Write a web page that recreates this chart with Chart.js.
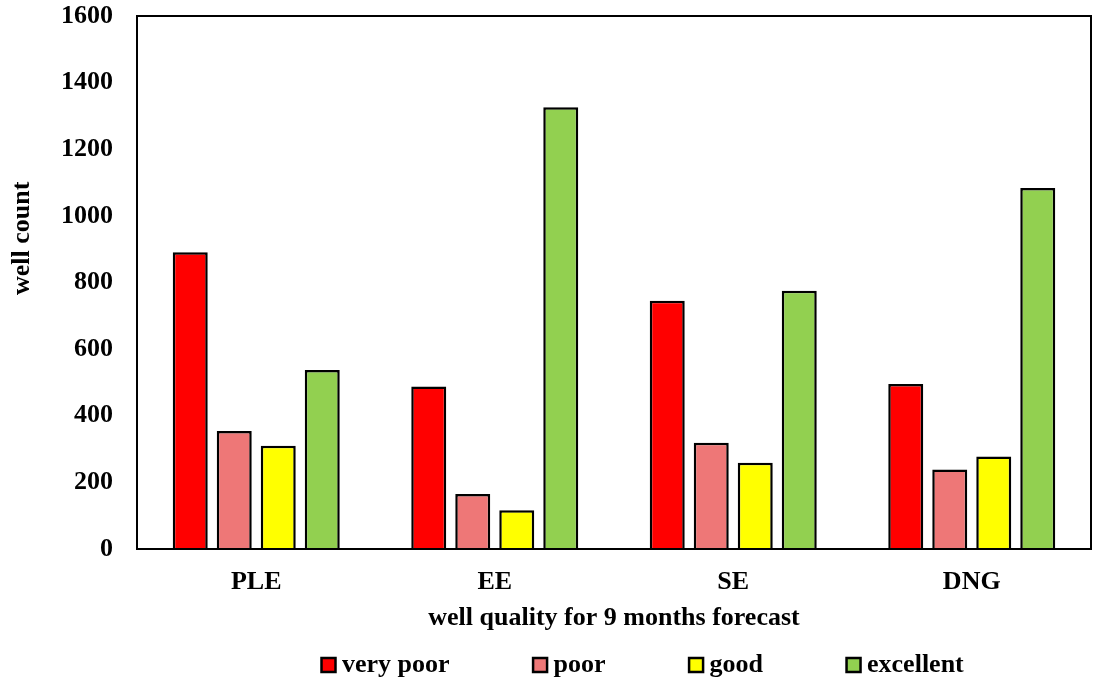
<!DOCTYPE html>
<html>
<head>
<meta charset="utf-8">
<script src="https://cdn.jsdelivr.net/npm/chart.js@4/dist/chart.umd.min.js"></script>
<style>
  html, body { margin: 0; padding: 0; background: #ffffff; }
  #wrap { position: relative; width: 1094px; height: 682px; }
</style>
</head>
<body>
<div id="wrap"><canvas id="chart"></canvas></div>
<script>
// Forecast categories and well counts per quality class
const categories = ['PLE', 'EE', 'SE', 'DNG'];
const veryPoor  = [891, 488, 745, 495];
const poor      = [354, 165, 319, 239];
const good      = [310, 116, 259, 278];
const excellent = [537, 1326, 775, 1084];
const seriesNames = ['very poor', 'poor', 'good', 'excellent'];
const yTicks = [0, 200, 400, 600, 800, 1000, 1200, 1400, 1600];

const FONT = '"Liberation Serif", "Times New Roman", serif';
Chart.defaults.font.family = FONT;
Chart.defaults.font.weight = 'bold';
Chart.defaults.font.size = 26;
Chart.defaults.color = '#000000';

const LEGEND_PAD = 90;

// Frame around the plot area
const frame = {
  id: 'frame',
  afterDatasetsDraw(chart) {
    const a = chart.chartArea, ctx = chart.ctx;
    ctx.save();
    ctx.strokeStyle = '#000000';
    ctx.lineWidth = 2;
    ctx.strokeRect(a.left, a.top, a.right - a.left, a.bottom - a.top);
    ctx.restore();
  }
};

// Place the legend row under the axis title
const legendPlacement = {
  id: 'legendPlacement',
  afterLayout(chart) {
    const lg = chart.legend;
    if (!lg) return;
    lg.left = 328 - LEGEND_PAD;
    lg.right = 2000;
    lg.top = 665 - 13 - LEGEND_PAD;
  }
};

// Vertical axis title
const yTitle = {
  id: 'yTitle',
  afterDraw(chart) {
    const a = chart.chartArea, ctx = chart.ctx;
    ctx.save();
    ctx.translate(22, a.top + (a.bottom - a.top) * 0.417);
    ctx.rotate(-Math.PI / 2);
    ctx.font = 'bold 26px ' + FONT;
    ctx.fillStyle = '#000000';
    ctx.textAlign = 'center';
    ctx.textBaseline = 'middle';
    ctx.fillText('well count', 0, 0);
    ctx.restore();
  }
};

const colors = ['#FF0000', '#EE7777', '#FFFF00', '#92D050'];
const values = [veryPoor, poor, good, excellent];

new Chart(document.getElementById('chart'), {
  type: 'bar',
  data: {
    labels: categories,
    datasets: values.map((v, i) => ({
      label: seriesNames[i],
      data: v,
      backgroundColor: colors[i],
      borderColor: '#000000',
      borderWidth: 2.5,
      categoryPercentage: 0.738,
      barPercentage: 0.795
    }))
  },
  options: {
    responsive: true,
    maintainAspectRatio: false,
    animation: false,
    devicePixelRatio: 1,
    layout: { padding: { left: 0, top: 16, right: 3, bottom: 0 } },
    plugins: {
      tooltip: { enabled: false },
      legend: {
        position: 'bottom',
        align: 'start',
        maxHeight: 40,
        labels: {
          usePointStyle: true,
          pointStyle: 'rect',
          boxWidth: 1,
          boxHeight: 14,
          padding: LEGEND_PAD,
          color: '#000000',
          font: { size: 26, weight: 'bold', family: FONT }
        }
      }
    },
    scales: {
      x: {
        grid: { display: false, drawTicks: false },
        border: { display: false },
        ticks: { padding: 18, font: { size: 26, weight: 'bold' } },
        title: {
          display: true,
          text: 'well quality for 9 months forecast',
          font: { size: 26, weight: 'bold' },
          padding: { top: 0, bottom: 8 }
        },
        afterFit(scale) {
          scale.height = 93;
          scale.paddingLeft = 0;
          scale.paddingRight = 0;
        }
      },
      y: {
        min: 0,
        max: 1600,
        grid: { display: false, drawTicks: false },
        border: { display: false },
        afterBuildTicks(scale) { scale.ticks = yTicks.map(v => ({ value: v })); },
        ticks: {
          padding: 24,
          font: { size: 26, weight: 'bold' },
          callback: (v) => String(v)
        },
        afterFit(scale) {
          scale.width = 137;
          scale.paddingTop = 0;
          scale.paddingBottom = 0;
        }
      }
    }
  },
  plugins: [frame, legendPlacement, yTitle]
});
</script>
</body>
</html>
